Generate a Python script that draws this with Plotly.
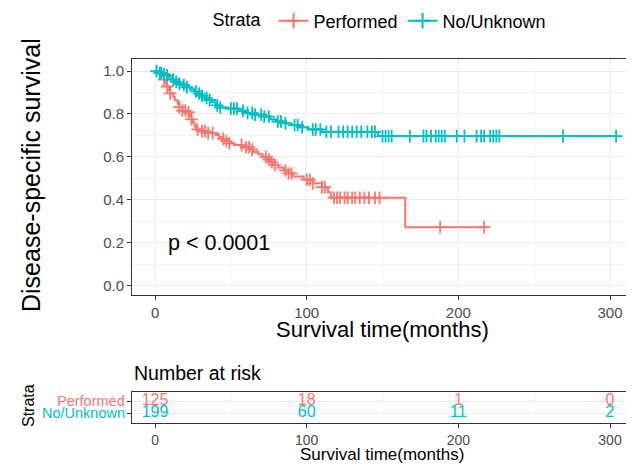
import numpy as np
import plotly.graph_objects as go

RED = "#F8766D"
TEAL = "#00BFC4"
FONT = "Liberation Sans, Arial, sans-serif"

groups = ["Performed", "No/Unknown"]

# Kaplan-Meier step curves (time in months, survival)
perf_t = [0, 2, 4, 5, 6, 7, 8, 9, 10, 12, 13, 15, 16, 18, 21, 23, 24, 25, 26, 27, 30, 35, 40,
          42, 44, 47, 49, 52, 58, 63, 65, 68, 71, 74, 76, 78, 81, 85, 88, 91, 98, 104, 110,
          114, 116, 165]
perf_s = [1.0, 0.992, 0.984, 0.976, 0.96, 0.944, 0.928, 0.912, 0.896, 0.88, 0.864, 0.848, 0.832,
          0.816, 0.808, 0.79, 0.775, 0.76, 0.744, 0.728, 0.72, 0.711, 0.702, 0.693, 0.684, 0.674,
          0.664, 0.655, 0.645, 0.634, 0.623, 0.612, 0.6, 0.588, 0.576, 0.563, 0.55, 0.537, 0.523,
          0.509, 0.494, 0.477, 0.459, 0.435, 0.41, 0.273]
perf_end = 217

noun_t = [0, 2, 3, 5, 7, 9, 11, 13, 15, 17, 20, 23, 26, 28, 30, 33, 35, 37, 40, 42, 48, 55, 60,
          66, 72, 76, 80, 86, 90, 95, 101, 110, 147]
noun_s = [1.0, 0.995, 0.99, 0.985, 0.98, 0.97, 0.96, 0.95, 0.94, 0.935, 0.925, 0.915, 0.905,
          0.895, 0.885, 0.875, 0.865, 0.855, 0.84, 0.83, 0.825, 0.815, 0.805, 0.797, 0.788,
          0.775, 0.765, 0.756, 0.748, 0.738, 0.728, 0.717, 0.697]
noun_end = 305

# censoring times
perf_cens = [6, 8, 10, 16, 18, 20, 22, 24, 28, 31, 33, 35, 38, 45, 47, 49, 57, 60, 62, 64, 73, 75,
             77, 79, 86, 88, 90, 100, 102, 104, 110, 112, 118, 120, 122, 125, 127, 130, 132, 135,
             138, 141, 145, 148, 188, 217]
noun_cens = [1, 3, 4, 6, 8, 12, 14, 16, 19, 21, 27, 29, 31, 34, 36, 41, 43, 50, 52, 54, 58, 61,
             64, 66, 70, 72, 75, 81, 83, 86, 92, 94, 97, 104, 106, 109, 113, 116, 121, 124, 127,
             130, 133, 136, 140, 143, 145, 150, 152, 154, 156, 168, 177, 179, 182, 185, 187, 189,
             191, 199, 204, 212, 215, 217, 221, 223, 225, 227, 269, 304]

# number at risk table
risk_times = [0, 100, 200, 300]
risk_perf = [125, 18, 1, 0]
risk_noun = [199, 60, 11, 2]

x_ticks = [0, 100, 200, 300]
y_ticks = [0.0, 0.2, 0.4, 0.6, 0.8, 1.0]


def step_value(ts, ss, t):
    idx = np.searchsorted(np.array(ts), np.array(t), side="right") - 1
    return list(np.array(ss)[idx])


# the page body adds an 8px offset; work in page pixels and subtract it
OFF = 8
W, H = 634 - OFF, 467 - OFF
ML, MT = 132 - OFF, 59 - OFF
MR = W - (632 - OFF)
MB = H - (423 - OFF)
plot_w = W - ML - MR
plot_h = H - MT - MB


def px_x(p):
    return (p - OFF - ML) / plot_w


def px_y(p):
    return 1 - (p - OFF - MT) / plot_h


fig = go.Figure()

series = [
    (groups[0], RED, perf_t, perf_s, perf_end, perf_cens),
    (groups[1], TEAL, noun_t, noun_s, noun_end, noun_cens),
]
for name, col, ts, ss, tend, cens in series:
    fig.add_trace(go.Scatter(x=list(ts) + [tend], y=list(ss) + [ss[-1]], mode="lines",
                             line=dict(color=col, width=2, shape="hv"),
                             showlegend=False, hoverinfo="skip", xaxis="x", yaxis="y"))
    fig.add_trace(go.Scatter(x=cens, y=step_value(ts, ss, cens), mode="markers",
                             marker=dict(symbol="cross-thin", size=9,
                                         line=dict(color=col, width=1.8)),
                             showlegend=False, hoverinfo="skip", xaxis="x", yaxis="y"))
    fig.add_trace(go.Scatter(x=[None], y=[None], mode="lines+markers", name=name,
                             line=dict(color=col, width=2),
                             marker=dict(symbol="cross-thin", size=11,
                                         line=dict(color=col, width=2)),
                             xaxis="x", yaxis="y"))

# risk table numbers
fig.add_trace(go.Scatter(x=risk_times, y=[2] * len(risk_times), mode="text",
                         text=[str(v) for v in risk_perf],
                         textfont=dict(color=RED, size=16, family=FONT),
                         showlegend=False, hoverinfo="skip", xaxis="x2", yaxis="y2"))
fig.add_trace(go.Scatter(x=risk_times, y=[1] * len(risk_times), mode="text",
                         text=[str(v) for v in risk_noun],
                         textfont=dict(color=TEAL, size=16, family=FONT),
                         showlegend=False, hoverinfo="skip", xaxis="x2", yaxis="y2"))

axis_common = dict(showline=True, linecolor="#333333", linewidth=1, mirror=True,
                   ticks="outside", ticklen=4, tickcolor="#333333", tickwidth=1,
                   gridcolor="#EBEBEB", gridwidth=1, zeroline=False, automargin=False)

xr = [-15.2, 314.5]
fig.update_layout(
    width=W, height=H,
    margin=dict(l=ML, r=MR, t=MT, b=MB, autoexpand=False),
    paper_bgcolor="white", plot_bgcolor="white",
    font=dict(family=FONT, color="black"),
    xaxis=dict(domain=[0, 1], range=xr, tickvals=x_ticks, anchor="y",
               tickfont=dict(size=15, color="#4D4D4D", family=FONT),
               minor=dict(dtick=50, tick0=0, showgrid=True, gridcolor="#F4F4F4", ticks=""),
               **axis_common),
    yaxis=dict(domain=[px_y(295), 1], range=[-0.043, 1.056], tickvals=y_ticks, tickformat=".1f",
               anchor="x", tickfont=dict(size=15, color="#4D4D4D", family=FONT),
               minor=dict(dtick=0.1, tick0=0, showgrid=True, gridcolor="#F4F4F4", ticks=""),
               **axis_common),
    xaxis2=dict(domain=[0, 1], range=xr, tickvals=x_ticks, anchor="y2",
                tickfont=dict(size=14, color="#4D4D4D", family=FONT),
                minor=dict(dtick=50, tick0=0, showgrid=True, gridcolor="#F4F4F4", ticks=""),
                **axis_common),
    yaxis2=dict(domain=[0, px_y(391.7)], range=[0.22, 2.76], tickvals=[1, 2],
                showticklabels=False, anchor="x2", **axis_common),
    legend=dict(orientation="h", x=px_x(381), xanchor="center", y=px_y(21), yanchor="middle",
                font=dict(size=18, family=FONT, color="black"),
                title=dict(text="Strata ", font=dict(size=18, family=FONT)),
                bgcolor="rgba(0,0,0,0)", itemwidth=30, tracegroupgap=0),
)

fig.add_annotation(text="p < 0.0001", x=7, y=0.2, xref="x", yref="y", xanchor="left",
                   yanchor="middle", showarrow=False, font=dict(size=21.5, color="black", family=FONT))
fig.add_annotation(text="Survival time(months)", x=px_x(382), y=px_y(329), xref="paper",
                   yref="paper", showarrow=False, xanchor="center", yanchor="middle",
                   font=dict(size=22, family=FONT))
fig.add_annotation(text="Disease-specific survival", x=px_x(31), y=px_y(175), xref="paper",
                   yref="paper", showarrow=False, textangle=-90, xanchor="center",
                   yanchor="middle", font=dict(size=25, family=FONT))
fig.add_annotation(text="Number at risk", x=px_x(132), y=px_y(373), xref="paper",
                   yref="paper", showarrow=False, xanchor="left", yanchor="middle",
                   font=dict(size=19.5, family=FONT))
fig.add_annotation(text="Strata", x=px_x(28), y=px_y(406), xref="paper", yref="paper",
                   showarrow=False, textangle=-90, xanchor="center", yanchor="middle",
                   font=dict(size=16, family=FONT))
fig.add_annotation(text="Survival time(months)", x=px_x(382), y=px_y(455), xref="paper",
                   yref="paper", showarrow=False, xanchor="center", yanchor="middle",
                   font=dict(size=17, family=FONT))
fig.add_annotation(text=groups[0], x=px_x(127), y=2, xref="paper", yref="y2", xanchor="right",
                   yanchor="middle", showarrow=False, font=dict(size=14.5, color=RED, family=FONT))
fig.add_annotation(text=groups[1], x=px_x(127), y=1, xref="paper", yref="y2", xanchor="right",
                   yanchor="middle", showarrow=False, font=dict(size=14.5, color=TEAL, family=FONT))

fig.write_html("out.html")
